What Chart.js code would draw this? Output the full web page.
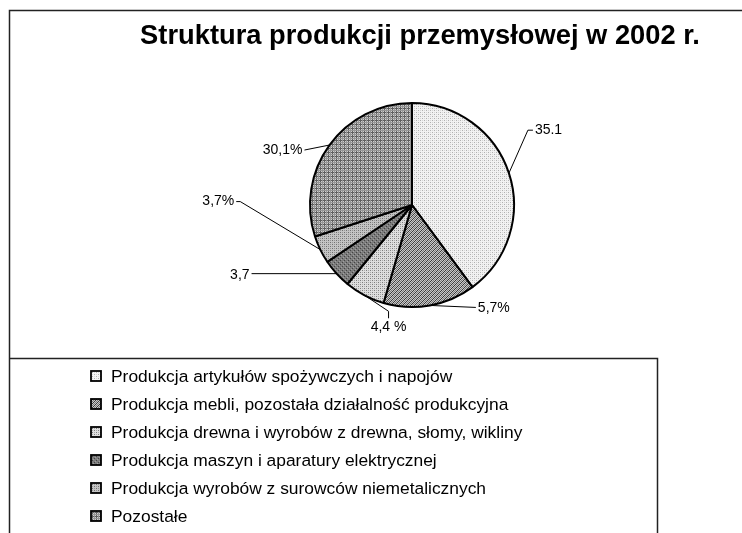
<!doctype html>
<html lang="pl">
<head>
<meta charset="UTF-8" />
<title>Struktura produkcji przemysłowej w 2002 r.</title>
<script src="https://cdn.jsdelivr.net/npm/chart.js"></script>
<style>
  html, body { margin: 0; padding: 0; background: #fff; }
  #wrap { width: 742px; height: 533px; }
</style>
</head>
<body>
<div id="wrap"><canvas id="pieChart" width="742" height="533"></canvas></div>
<script>
const chartTitle = "Struktura produkcji przemysłowej w 2002 r.";
const categories = [
  "Produkcja artykułów spożywczych i napojów",
  "Produkcja mebli, pozostała działalność produkcyjna",
  "Produkcja drewna i wyrobów z drewna, słomy, wikliny",
  "Produkcja maszyn i aparatury elektrycznej",
  "Produkcja wyrobów z surowców niemetalicznych",
  "Pozostałe"
];
const shares = [39.9, 14.6, 6.4, 4.7, 4.4, 30.0];
// the label texts printed next to the slices
const sliceLabels = ["35.1", "5,7%", "4,4 %", "3,7", "3,7%", "30,1%"];

const FONT = '"Liberation Sans", Arial, sans-serif';

// little pattern tiles, one per slice
function makePattern(kind) {
  const c = document.createElement("canvas");
  c.width = 4; c.height = 4;
  const g = c.getContext("2d");
  const px = (x, y, col) => { g.fillStyle = col; g.fillRect(x, y, 1, 1); };
  if (kind === 0) {          // light dots
    g.fillStyle = "#f2f2f2"; g.fillRect(0, 0, 4, 4);
    px(0, 0, "#b0b0b0"); px(2, 2, "#b0b0b0"); px(2, 0, "#d6d6d6"); px(0, 2, "#d6d6d6");
  } else if (kind === 1) {   // diagonal hatch
    g.fillStyle = "#c8c8c8"; g.fillRect(0, 0, 4, 4);
    for (let i = 0; i < 4; i++) { px(i, 3 - i, "#3a3a3a"); px((i + 2) % 4, 3 - i, "#7a7a7a"); }
  } else if (kind === 2) {   // medium dots
    g.fillStyle = "#dedede"; g.fillRect(0, 0, 4, 4);
    px(0, 0, "#7c7c7c"); px(2, 2, "#7c7c7c"); px(2, 0, "#aaaaaa"); px(0, 2, "#aaaaaa");
  } else if (kind === 3) {   // dark fine
    g.fillStyle = "#7c7c7c"; g.fillRect(0, 0, 4, 4);
    px(0, 0, "#444"); px(2, 2, "#444"); px(1, 3, "#a0a0a0"); px(3, 1, "#a0a0a0");
  } else if (kind === 4) {   // medium checker
    g.fillStyle = "#c4c4c4"; g.fillRect(0, 0, 4, 4);
    px(0, 0, "#707070"); px(2, 2, "#707070"); px(2, 0, "#949494"); px(0, 2, "#949494");
  } else {                   // grid
    g.fillStyle = "#cfcfcf"; g.fillRect(0, 0, 4, 4);
    g.fillStyle = "#5e5e5e"; g.fillRect(0, 0, 4, 1); g.fillRect(0, 0, 1, 4);
    g.fillStyle = "#969696"; g.fillRect(0, 2, 4, 1); g.fillRect(2, 0, 1, 4);
  }
  return c;
}
const ctx = document.getElementById("pieChart").getContext("2d");
const fills = categories.map((_, i) => ctx.createPattern(makePattern(i), "repeat"));

// leader lines: bends relative to the slice's rim point, then text anchor
const leaders = [
  { path: [[19, -43], [24, -43]], text: [26, -43], align: "left" },
  { path: [[46, 2]], text: [48, 3], align: "left" },
  { path: [[24, 16], [24, 23]], text: [24, 32], align: "center" },
  { path: [[-85, 0]], text: [-87, 1], align: "right" },
  { path: [[-80, -48], [-84, -48]], text: [-86, -48], align: "right" },
  { path: [[-25, 5]], text: [-27, 5], align: "right" }
];

const decorations = {
  id: "decorations",
  beforeDraw(chart) {
    const c = chart.ctx;
    c.save();
    c.fillStyle = "#fff";
    c.fillRect(0, 0, chart.width, chart.height);
    // outer frame and legend box
    c.strokeStyle = "#222";
    c.lineWidth = 1.5;
    c.beginPath();
    c.moveTo(9.5, chart.height); c.lineTo(9.5, 10.5); c.lineTo(chart.width, 10.5);
    c.moveTo(9.5, 358.5); c.lineTo(657.5, 358.5); c.lineTo(657.5, chart.height);
    c.stroke();
    // title
    c.fillStyle = "#000";
    c.font = "bold 27.3px " + FONT;
    c.textAlign = "center";
    c.textBaseline = "alphabetic";
    c.fillText(chartTitle, 420, 44);
    c.restore();
  },
  afterDatasetsDraw(chart) {
    const c = chart.ctx;
    const arcs = chart.getDatasetMeta(0).data;
    c.save();
    c.strokeStyle = "#000";
    c.lineWidth = 1;
    c.fillStyle = "#000";
    c.font = "14px " + FONT;
    c.textBaseline = "middle";
    arcs.forEach((arc, i) => {
      const p = arc.getProps(["x", "y", "startAngle", "endAngle", "outerRadius"], true);
      const mid = (p.startAngle + p.endAngle) / 2;
      const ex = p.x + Math.cos(mid) * p.outerRadius;
      const ey = p.y + Math.sin(mid) * p.outerRadius;
      const L = leaders[i];
      c.beginPath();
      c.moveTo(ex, ey);
      L.path.forEach(([dx, dy]) => c.lineTo(ex + dx, ey + dy));
      c.stroke();
      c.textAlign = L.align;
      c.fillText(sliceLabels[i], ex + L.text[0], ey + L.text[1]);
    });
    // legend
    c.font = "17.4px " + FONT;
    c.textAlign = "left";
    categories.forEach((name, i) => {
      const y = 376 + i * 28;
      c.fillStyle = fills[i];
      c.fillRect(91, y - 5, 10, 10);
      c.lineWidth = 1.8;
      c.strokeStyle = "#000";
      c.strokeRect(91, y - 5, 10, 10);
      c.fillStyle = "#000";
      c.fillText(name, 111, y + 1);
    });
    c.restore();
  }
};

new Chart(ctx, {
  type: "pie",
  data: {
    labels: categories,
    datasets: [{
      data: shares,
      backgroundColor: fills,
      borderColor: "#000",
      borderWidth: 2,
      radius: 102
    }]
  },
  options: {
    responsive: false,
    animation: false,
    events: [],
    layout: { padding: { left: 310, right: 228, top: 103, bottom: 226 } },
    plugins: {
      legend: { display: false },
      title: { display: false },
      tooltip: { enabled: false }
    }
  },
  plugins: [decorations]
});
</script>
</body>
</html>
